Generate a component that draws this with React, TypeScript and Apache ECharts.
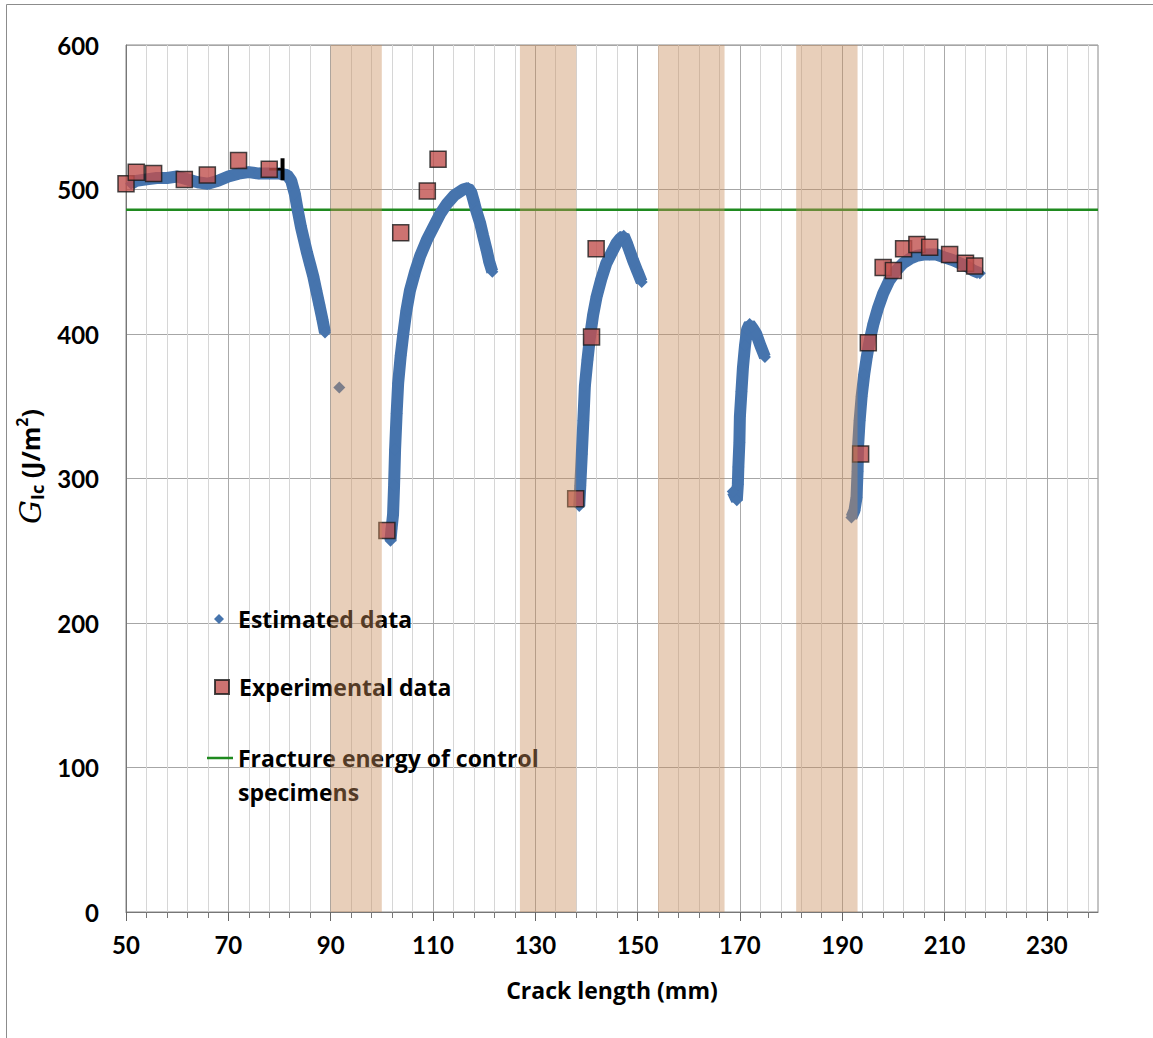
import React, { useEffect, useRef } from "react";
import * as echarts from "echarts";

// ---------- data ----------
const estimatedSeg1: number[][] = [
  [51, 504], [52, 506], [54, 507], [56, 508], [58, 508], [60, 509], [62, 507], [64, 505],
  [66, 504], [68, 506], [70, 509], [72, 511], [74, 512], [76, 511], [78, 511], [80, 511],
  [81.5, 510], [82.3, 506], [83, 497], [83.6, 485], [84.2, 474], [84.8, 465], [85.4, 456],
  [86, 448], [86.6, 440], [87.2, 430], [87.8, 420], [88.4, 410], [88.9, 401],
];
const estimatedIsolated: number[][] = [[91.7, 363]];
const estimatedSeg2: number[][] = [
  [101.7, 257], [101.9, 265], [102.2, 275], [102.4, 295], [102.6, 320], [102.9, 345],
  [103.2, 366], [103.7, 385], [104.2, 400], [104.8, 416], [105.5, 430], [106.5, 443],
  [107.5, 454], [108.8, 465], [110.1, 474], [111.4, 483], [112.7, 490], [114.2, 496],
  [115.9, 500], [116.9, 501], [117.5, 498], [117.9, 493], [118.5, 485], [119.2, 477],
  [119.8, 468], [120.5, 458], [121.0, 450], [121.6, 443],
];
const estimatedSeg3: number[][] = [
  [138.6, 281], [138.8, 295], [139.1, 317], [139.4, 340], [139.7, 364], [140.2, 382],
  [140.7, 398], [141.3, 413], [142.0, 426], [142.9, 438], [143.9, 449], [144.9, 456],
  [145.9, 463], [146.6, 466], [147.3, 468], [148.0, 462], [148.6, 456], [149.1, 451],
  [150.0, 443], [150.8, 436],
];
const estimatedSeg4: number[][] = [
  [168.6, 291], [169.4, 285], [169.6, 296], [169.7, 308], [169.9, 325], [170.0, 343],
  [170.3, 360], [170.6, 377], [171.0, 392], [171.4, 403], [171.9, 407], [172.5, 404],
  [173.2, 400], [174.0, 392], [174.9, 384],
];
const estimatedSeg5: number[][] = [
  [191.8, 273], [192.4, 278], [192.8, 287], [193.0, 305], [193.1, 322], [193.4, 340],
  [193.8, 357], [194.3, 372], [194.8, 384], [195.4, 396], [196.1, 407], [197.0, 418],
  [198.0, 428], [199.2, 437], [200.6, 444], [201.9, 449], [203.2, 452], [204.5, 454],
  [205.8, 455], [207.1, 455], [208.4, 455], [210.0, 453], [211.7, 451], [213.0, 449],
  [214.3, 447], [215.6, 444], [216.9, 442],
];

const experimental: number[][] = [
  [50.0, 504], [52.0, 512], [55.4, 511], [61.4, 507], [65.9, 510], [72.0, 520], [78.0, 514],
  [101.0, 264], [103.7, 470], [108.9, 499], [111.0, 521],
  [137.9, 286], [141.0, 398], [141.9, 459],
  [193.6, 317], [195.1, 394], [198.0, 446], [200.0, 444], [202.0, 459], [204.6, 462],
  [207.1, 460], [211.0, 455], [214.1, 449], [215.9, 447],
];

// [x, y, xEnd] horizontal error bar
const errorBars: number[][] = [[78.0, 514, 80.6]];

const controlFractureEnergy = 486;

// shaded crack-arrest bands [from, to]
const bands: number[][] = [[90, 100], [127, 138], [154, 167], [181, 193]];

const xMinorTicks: number[] = [
  50, 54, 58, 62, 66, 70, 74, 78, 82, 86, 90, 94, 98, 102, 106, 110, 114, 118, 122, 126,
  130, 134, 138, 142, 146, 150, 154, 158, 162, 166, 170, 174, 178, 182, 186, 190, 194,
  198, 202, 206, 210, 214, 218, 222, 226, 230, 234, 238,
];
const xMajorTicks: number[] = [50, 70, 90, 110, 130, 150, 170, 190, 210, 230];

const FONT = "Lato";
const TFONT = "Open Sans";
const BLUE = "#4674ad";

export default function App() {
  const ref = useRef<HTMLDivElement>(null);

  useEffect(() => {
    if (!ref.current) return;
    const chart = echarts.init(ref.current, null, { renderer: "svg" });

    const estimatedData: (number[] | null)[] = [];
    [estimatedSeg1, estimatedIsolated, estimatedSeg2, estimatedSeg3, estimatedSeg4, estimatedSeg5].forEach(
      (seg, i) => {
        if (i > 0) estimatedData.push(null as any);
        seg.forEach((p) => estimatedData.push(p));
      }
    );

    const legendText = { fontFamily: TFONT, fontWeight: "bold" as const, fontSize: 23, color: "#000", lineHeight: 28 };

    chart.setOption({
      animation: false,
      backgroundColor: "#fff",
      grid: {
        left: 126,
        top: 45,
        right: 55,
        bottom: 126,
        show: true,
        borderColor: "#888",
        borderWidth: 1,
        backgroundColor: "transparent",
      },
      graphic: [
        {
          type: "rect",
          silent: true,
          z: -10,
          shape: { x: 6.5, y: 4.5, width: 1200, height: 1100 },
          style: { fill: "none", stroke: "#8c8c8c", lineWidth: 1 },
        },
      ],
      legend: [
        {
          z: 1,
          data: [{ name: "Estimated data", icon: "diamond" }],
          left: 214,
          top: 605,
          padding: 0,
          itemWidth: 10,
          itemHeight: 10,
          textStyle: { ...legendText, padding: [0, 0, 0, 9] },
          selectedMode: false,
        },
        {
          z: 1,
          data: [{ name: "Experimental data", icon: "rect" }],
          left: 214,
          top: 673,
          padding: 0,
          itemWidth: 14,
          itemHeight: 14,
          textStyle: { ...legendText, padding: [0, 0, 0, 5] },
          selectedMode: false,
        },
        {
          z: 1,
          data: [{ name: "Fracture energy of control specimens", icon: "rect" }],
          left: 207,
          top: 707,
          padding: 0,
          itemWidth: 26,
          itemHeight: 2.5,
          formatter: () => " \nFracture energy of control\nspecimens",
          textStyle: { ...legendText, lineHeight: 34 },
          selectedMode: false,
        },
      ],
      xAxis: [
        {
          type: "value",
          min: 50,
          max: 240,
          position: "bottom",
          name: "Crack length (mm)",
          nameLocation: "middle",
          nameGap: 66,
          nameTextStyle: { fontFamily: TFONT, fontWeight: "bold", fontSize: 23, color: "#000" },
          axisLine: { show: true, lineStyle: { color: "#777", width: 1 } },
          axisTick: { show: true, customValues: xMinorTicks, length: 6, lineStyle: { color: "#777" } },
          axisLabel: {
            customValues: xMajorTicks,
            margin: 20,
            fontFamily: FONT,
            fontWeight: "bold",
            fontSize: 24,
            color: "#000",
          },
          splitLine: { show: true, lineStyle: { color: "#d6d6d6", width: 1 } },
        },
        {
          type: "value",
          min: 50,
          max: 240,
          position: "bottom",
          offset: 0,
          axisLine: { show: false },
          axisTick: { show: true, customValues: xMajorTicks, length: 9, lineStyle: { color: "#666" } },
          axisLabel: { show: false },
          splitLine: { show: true, lineStyle: { color: "#aaaaaa", width: 1 } },
        },
      ],
      yAxis: {
        type: "value",
        min: 0,
        max: 600,
        interval: 100,
        name: "{g|G}{sub|Ic}{t| (J/m}{sup|2}{t|)}",
        nameLocation: "middle",
        nameGap: 68,
        nameRotate: 90,
        nameTextStyle: {
          color: "#000",
          padding: [0, 0, 0, 24],
          rich: {
            g: { fontFamily: "DejaVu Serif", fontStyle: "italic", fontSize: 30, color: "#000", lineHeight: 32 },
            sub: { fontFamily: TFONT, fontWeight: "bold", fontSize: 18, color: "#000", verticalAlign: "bottom", lineHeight: 18 },
            t: { fontFamily: TFONT, fontWeight: "bold", fontSize: 25, color: "#000", lineHeight: 32 },
            sup: { fontFamily: TFONT, fontWeight: "bold", fontSize: 16, color: "#000", verticalAlign: "top", lineHeight: 16 },
          },
        },
        axisLine: { show: true, lineStyle: { color: "#777" } },
        axisTick: { show: false },
        axisLabel: { margin: 27, fontFamily: FONT, fontWeight: "bold", fontSize: 24, color: "#000" },
        splitLine: { show: true, lineStyle: { color: "#a6a6a6", width: 1 } },
      },
      series: [
        {
          name: "Fracture energy of control specimens",
          type: "line",
          data: [[50, controlFractureEnergy], [240, controlFractureEnergy]],
          showSymbol: false,
          symbol: "none",
          color: "#1f8a1f",
          lineStyle: { color: "#1f8a1f", width: 2.5 },
          z: 2,
        },
        {
          name: "Estimated data",
          type: "line",
          data: estimatedData,
          connectNulls: false,
          showSymbol: true,
          symbol: "diamond",
          symbolSize: 12,
          color: BLUE,
          itemStyle: { color: BLUE },
          lineStyle: { color: BLUE, width: 12 },
          z: 3,
        },
        {
          name: "errorbar",
          type: "custom",
          data: errorBars,
          z: 4,
          renderItem: (params: any, api: any) => {
            const p0 = api.coord([api.value(0), api.value(1)]);
            const p1 = api.coord([api.value(2), api.value(1)]);
            return {
              type: "group",
              children: [
                {
                  type: "line",
                  shape: { x1: p0[0], y1: p0[1], x2: p1[0], y2: p1[1] },
                  style: { stroke: "#000", lineWidth: 2.5 },
                },
                {
                  type: "line",
                  shape: { x1: p1[0], y1: p1[1] - 11, x2: p1[0], y2: p1[1] + 11 },
                  style: { stroke: "#000", lineWidth: 4 },
                },
              ],
            };
          },
        },
        {
          name: "Experimental data",
          type: "scatter",
          data: experimental,
          symbol: "rect",
          symbolSize: 16,
          color: "#c0504d",
          itemStyle: { color: "#c0504d", borderColor: "#1a1a1a", borderWidth: 1.5 },
          z: 5,
        },
        {
          name: "bands",
          type: "line",
          data: [],
          z: 20,
          zlevel: 0,
          silent: true,
          markArea: {
            silent: true,
            z: 20,
            itemStyle: { color: "rgba(200,140,90,0.42)" },
            data: bands.map((b) => [{ xAxis: b[0] }, { xAxis: b[1] }]),
          },
        },
      ],
    });

    return () => chart.dispose();
  }, []);

  return (
    <div
      ref={ref}
      style={{ position: "fixed", left: 0, top: 0, width: 1153, height: 1038 }}
    />
  );
}
